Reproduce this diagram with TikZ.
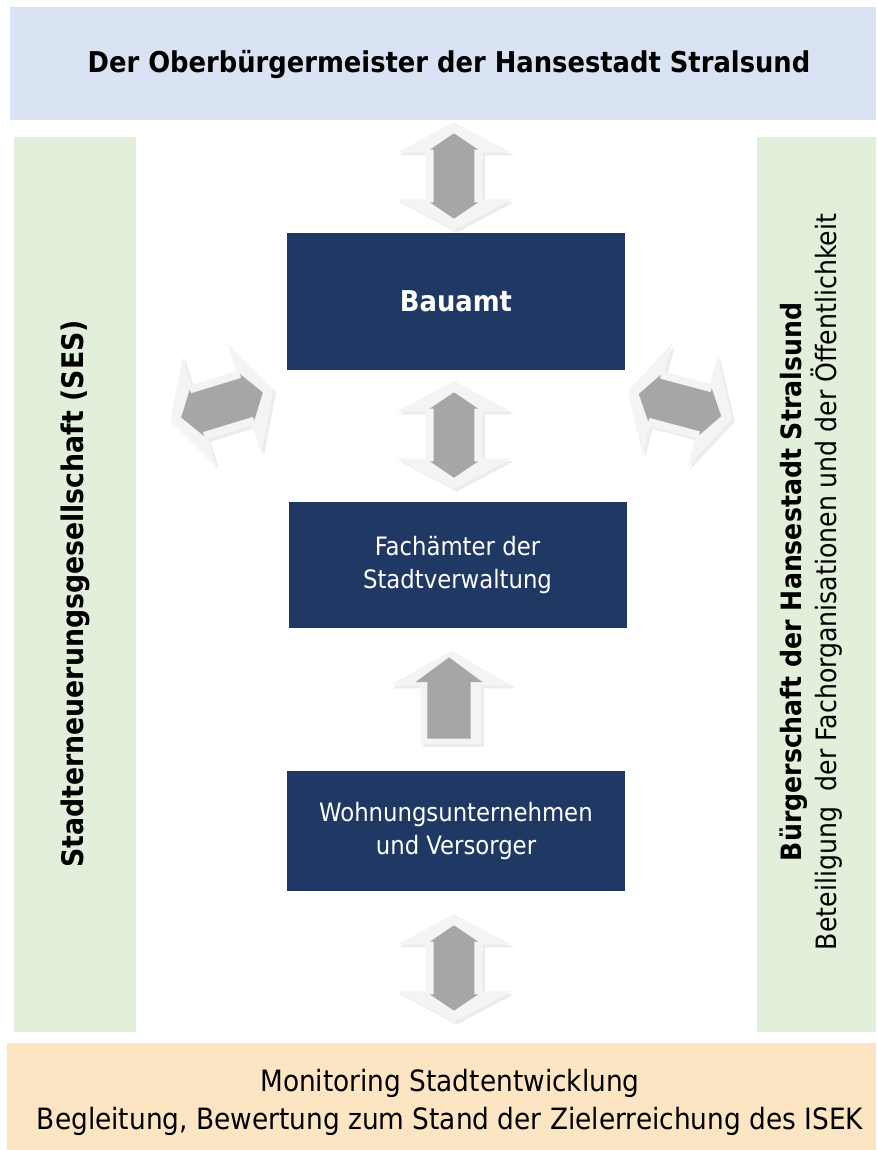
\documentclass[tikz,border=0pt]{standalone}
\usepackage{fontspec}
\setmainfont{DejaVu Sans Condensed}
\usetikzlibrary{shapes.arrows,shadows}
\definecolor{topblue}{HTML}{DAE3F3}
\definecolor{sidegreen}{HTML}{E2EFDA}
\definecolor{footorange}{HTML}{FBE5C3}
\definecolor{navy}{HTML}{1F3864}
\definecolor{arrowgray}{HTML}{A6A6A6}
\definecolor{arrowlight}{HTML}{F4F4F4}

\begin{document}
\begin{tikzpicture}[
  x=0.75pt,y=-0.75pt,
  every node/.style={font=\fontsize{19}{25}\selectfont},
  band/.style={inner sep=0pt,align=center},
  unit/.style={fill=navy,text=white,inner sep=0pt,align=center,
    minimum width=338*0.75pt},
  outerdbl/.style={double arrow,fill=arrowlight,inner xsep=0pt,
    drop shadow={shadow xshift=2pt,shadow yshift=-2pt,fill=black!15}},
  innerdbl/.style={double arrow,fill=arrowgray,inner xsep=0pt},
  outerup/.style={single arrow,fill=arrowlight,inner xsep=0pt,
    drop shadow={shadow xshift=2pt,shadow yshift=-2pt,fill=black!15}},
  innerup/.style={single arrow,fill=arrowgray,inner xsep=0pt}
]
  \useasboundingbox (0,0) rectangle (876,1150);

  % frame bands
  \fill[topblue] (10,7) rectangle (876,120);
  \fill[sidegreen] (14,137) rectangle (136,1032);
  \fill[sidegreen] (757,137) rectangle (876,1032);
  \fill[footorange] (7,1043) rectangle (876,1150);

  \node[band,font=\fontsize{21.5}{25}\selectfont\bfseries] (obm) at (449,64)
    {Der Oberbürgermeister der Hansestadt Stralsund};
  \node[band,rotate=90,font=\fontsize{22.3}{25}\selectfont\bfseries] (ses) at (75,594)
    {Stadterneuerungsgesellschaft (SES)};
  \node[band,rotate=90,font=\fontsize{21}{26}\selectfont] (bue) at (811,582)
    {\textbf{Bürgerschaft der Hansestadt Stralsund}\\
     Beteiligung\ \ der Fachorganisationen und der Öffentlichkeit};
  \node[band,font=\fontsize{22}{28.5}\selectfont] (mon) at (450,1102)
    {Monitoring Stadtentwicklung\\
     Begleitung, Bewertung zum Stand der Zielerreichung des ISEK};

  % administration units
  \node[unit,minimum height=137*0.75pt,font=\fontsize{21.5}{25}\selectfont\bfseries]
    (bau) at (456,301.5) {Bauamt};
  \node[unit,minimum height=126*0.75pt] (fach) at (457.5,565)
    {Fachämter der\\Stadtverwaltung};
  \node[unit,minimum height=120*0.75pt] (wohn) at (456,831)
    {Wohnungsunternehmen\\und Versorger};

  % block arrows
  \foreach \n/\x/\y/\r in {a1/454/176/90, a2/454/435/90, a3/454/968/90,
                           a4/222/405/17, a5/680/405/-15} {
    \node[outerdbl,rotate=\r,inner ysep=21pt,double arrow head extend=22pt,
      double arrow tip angle=124,minimum height=81pt] (\n o) at (\x,\y) {};
    \node[innerdbl,rotate=\r,inner ysep=15pt,double arrow head extend=3pt,
      double arrow tip angle=112,minimum height=64pt] (\n i) at (\x,\y) {};
  }
  \node[outerup,rotate=90,inner ysep=22.5pt,single arrow head extend=23.5pt,
    single arrow tip angle=121,minimum height=70pt] (upo) at (451,706) {};
  \node[innerup,rotate=90,inner ysep=16pt,single arrow head extend=9pt,
    single arrow tip angle=107,minimum height=61pt] (upi) at (449,706) {};
\end{tikzpicture}
\end{document}
